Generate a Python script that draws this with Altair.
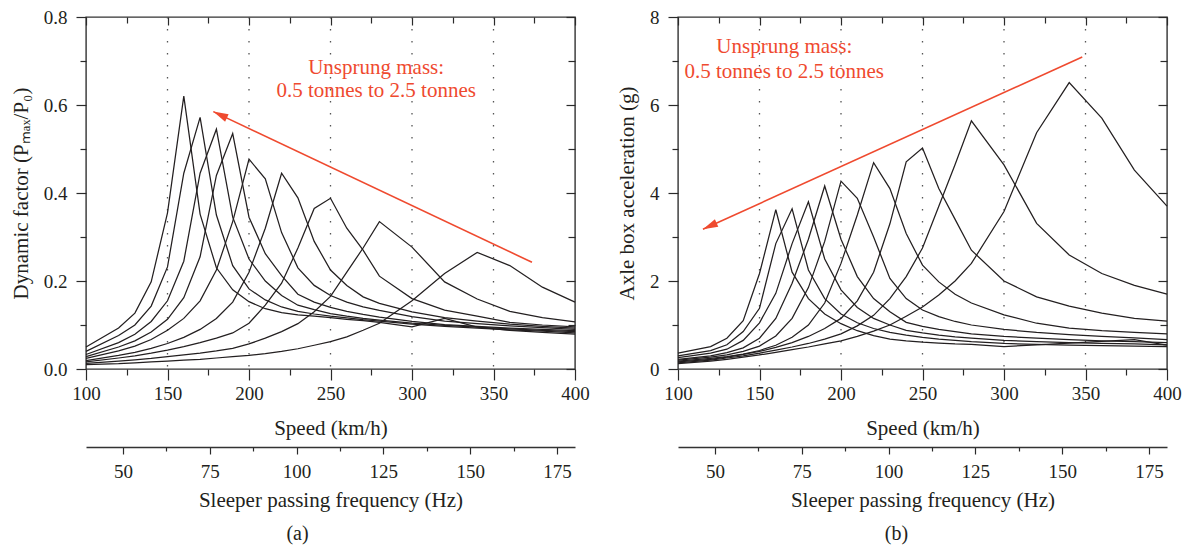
import altair as alt
import pandas as pd

FONT = "Liberation Serif"
INK = "#231f20"
RED = "#ef4a2f"

# Train speed samples (km/h)
speed = [100, 120, 130, 140, 150, 160, 170, 180, 190, 200, 210, 220,
         230, 240, 250, 260, 270, 280, 300, 320, 340, 360, 380, 400]

# Unsprung mass of each curve (tonnes)
masses = ["2.50", "2.25", "2.00", "1.75", "1.50", "1.25", "1.00", "0.75", "0.50"]

# (a) Dynamic factor Pmax/P0, one list per unsprung mass
dyn_250 = [0.050, 0.093, 0.127, 0.198, 0.355, 0.620, 0.352, 0.230, 0.180, 0.153, 0.137, 0.128,
           0.123, 0.120, 0.117, 0.113, 0.110, 0.106, 0.096, 0.115, 0.095, 0.088, 0.083, 0.079]
dyn_225 = [0.040, 0.076, 0.100, 0.143, 0.232, 0.445, 0.572, 0.350, 0.235, 0.182, 0.157, 0.141,
           0.131, 0.125, 0.120, 0.116, 0.112, 0.109, 0.102, 0.097, 0.093, 0.089, 0.086, 0.082]
dyn_200 = [0.033, 0.060, 0.079, 0.108, 0.155, 0.245, 0.445, 0.545, 0.345, 0.250, 0.200, 0.167,
           0.145, 0.135, 0.126, 0.120, 0.115, 0.111, 0.104, 0.099, 0.095, 0.091, 0.088, 0.085]
dyn_175 = [0.028, 0.050, 0.064, 0.084, 0.113, 0.162, 0.255, 0.440, 0.535, 0.345, 0.262, 0.212,
           0.170, 0.152, 0.140, 0.131, 0.124, 0.118, 0.108, 0.101, 0.097, 0.093, 0.090, 0.087]
dyn_150 = [0.024, 0.041, 0.052, 0.067, 0.088, 0.115, 0.155, 0.225, 0.335, 0.477, 0.432, 0.310,
           0.230, 0.190, 0.167, 0.152, 0.141, 0.133, 0.119, 0.109, 0.103, 0.098, 0.094, 0.090]
dyn_125 = [0.019, 0.031, 0.038, 0.047, 0.058, 0.072, 0.090, 0.115, 0.152, 0.220, 0.320, 0.445,
           0.389, 0.290, 0.225, 0.190, 0.164, 0.149, 0.130, 0.117, 0.109, 0.102, 0.097, 0.093]
dyn_100 = [0.016, 0.025, 0.030, 0.036, 0.043, 0.051, 0.060, 0.070, 0.082, 0.104, 0.145, 0.195,
           0.275, 0.365, 0.388, 0.320, 0.270, 0.211, 0.160, 0.134, 0.120, 0.106, 0.100, 0.096]
dyn_075 = [0.013, 0.018, 0.021, 0.024, 0.028, 0.032, 0.036, 0.041, 0.047, 0.057, 0.070, 0.085,
           0.103, 0.130, 0.165, 0.220, 0.275, 0.335, 0.277, 0.198, 0.159, 0.131, 0.117, 0.107]
dyn_050 = [0.010, 0.012, 0.014, 0.016, 0.018, 0.020, 0.022, 0.025, 0.028, 0.031, 0.035, 0.040,
           0.046, 0.054, 0.062, 0.073, 0.088, 0.104, 0.155, 0.217, 0.265, 0.235, 0.186, 0.152]

# (b) Axle box acceleration (g), one list per unsprung mass
acc_250 = [0.36, 0.51, 0.70, 1.10, 2.17, 3.62, 2.20, 1.60, 1.25, 1.03, 0.87, 0.76,
           0.68, 0.64, 0.61, 0.59, 0.57, 0.56, 0.51, 0.55, 0.59, 0.63, 0.67, 0.54]
acc_225 = [0.30, 0.42, 0.55, 0.85, 1.38, 2.85, 3.64, 2.25, 1.60, 1.25, 1.05, 0.92,
           0.83, 0.77, 0.72, 0.68, 0.65, 0.62, 0.58, 0.56, 0.54, 0.53, 0.52, 0.51]
acc_200 = [0.26, 0.36, 0.45, 0.65, 1.05, 1.72, 2.85, 3.80, 2.50, 1.80, 1.40, 1.15,
           1.00, 0.88, 0.82, 0.77, 0.73, 0.70, 0.65, 0.62, 0.60, 0.58, 0.57, 0.55]
acc_175 = [0.22, 0.30, 0.37, 0.48, 0.70, 1.15, 1.95, 2.95, 4.16, 2.95, 2.10, 1.60,
           1.30, 1.06, 0.97, 0.90, 0.85, 0.80, 0.74, 0.70, 0.67, 0.64, 0.62, 0.60]
acc_150 = [0.20, 0.27, 0.32, 0.40, 0.52, 0.75, 1.15, 1.85, 2.90, 4.27, 3.88, 3.00,
           2.06, 1.60, 1.34, 1.19, 1.08, 1.00, 0.90, 0.83, 0.78, 0.74, 0.71, 0.67]
acc_125 = [0.18, 0.24, 0.28, 0.34, 0.42, 0.54, 0.72, 1.00, 1.50, 2.40, 3.50, 4.69,
           4.10, 3.08, 2.36, 1.98, 1.70, 1.50, 1.23, 1.04, 0.93, 0.87, 0.83, 0.80]
acc_100 = [0.16, 0.22, 0.27, 0.33, 0.40, 0.49, 0.60, 0.74, 0.92, 1.15, 1.55, 2.20,
           3.30, 4.71, 5.02, 4.10, 3.40, 2.70, 2.00, 1.64, 1.43, 1.27, 1.15, 1.09]
acc_075 = [0.14, 0.20, 0.25, 0.30, 0.36, 0.43, 0.50, 0.58, 0.68, 0.80, 0.98, 1.22,
           1.60, 2.10, 2.75, 3.70, 4.65, 5.64, 4.64, 3.31, 2.59, 2.17, 1.90, 1.70]
acc_050 = [0.12, 0.18, 0.22, 0.27, 0.32, 0.38, 0.44, 0.50, 0.57, 0.64, 0.74, 0.86,
           1.00, 1.20, 1.41, 1.68, 2.00, 2.40, 3.58, 5.37, 6.51, 5.70, 4.52, 3.70]

# Axis ticks
speed_major = [100, 150, 200, 250, 300, 350, 400]
speed_minor = [125, 175, 225, 275, 325, 375]
freq_major = [50, 75, 100, 125, 150, 175]
freq_minor = [62.5, 87.5, 112.5, 137.5, 162.5]
freq_domain = [39.35, 180.2]
dotted_speeds = [150, 200, 250, 300, 350]

note_lines = ["Unsprung mass:", "0.5 tonnes to 2.5 tonnes"]

W, H = 489, 352


def long_table(series, field):
    rows = []
    for m, vals in zip(masses, series):
        for s, v in zip(speed, vals):
            rows.append({"speed": s, field: v, "mass": m})
    return pd.DataFrame(rows)


def panel(df, field, ydom, ymaj, ymin, yfmt, ytitle, note_x, note_y,
          arrow_from, arrow_to, head_angle, caption, cap_dx):
    xs = alt.Scale(domain=[100, 400], nice=False, zero=False)
    ys = alt.Scale(domain=ydom, nice=False, zero=False)
    fs = alt.Scale(domain=freq_domain, nice=False, zero=False)
    frame = pd.DataFrame({"speed": [100, 400], field: ydom})

    def no_axis_x(name="speed"):
        return alt.X(f"{name}:Q", scale=xs, axis=None)

    def no_axis_y():
        return alt.Y(f"{field}:Q", scale=ys, axis=None)

    dotted = alt.Chart(pd.DataFrame({"speed": dotted_speeds})).mark_rule(
        color="#555", strokeWidth=1.3, strokeDash=[1.5, 10.5]
    ).encode(x=no_axis_x())

    lines = alt.Chart(df).mark_line(
        color=INK, strokeWidth=1.25, strokeJoin="miter"
    ).encode(
        x=alt.X("speed:Q", scale=xs, axis=alt.Axis(
            orient="bottom", values=speed_major, tickSize=11, labelPadding=4,
            labelFlush=False, title="Speed (km/h)", titlePadding=14, domain=False)),
        y=alt.Y(f"{field}:Q", scale=ys, axis=alt.Axis(
            orient="left", values=ymaj, format=yfmt, tickSize=10, labelPadding=9,
            labelFlush=False, title=ytitle, titlePadding=12, domain=False)),
        detail="mass:N",
    )

    minor = alt.Chart(frame).mark_point(opacity=0).encode(
        x=alt.X("speed:Q", scale=xs, axis=alt.Axis(
            orient="bottom", values=speed_minor, tickSize=6, labels=False,
            domain=False, title=None)),
        y=alt.Y(f"{field}:Q", scale=ys, axis=alt.Axis(
            orient="left", values=ymin, tickSize=6, labels=False,
            domain=False, title=None)),
    )

    mirror_major = alt.Chart(frame).mark_point(opacity=0).encode(
        x=alt.X("speed:Q", scale=xs, axis=alt.Axis(
            orient="top", offset=-8, values=speed_major, tickSize=8, labels=False,
            domain=False, title=None)),
        y=alt.Y(f"{field}:Q", scale=ys, axis=alt.Axis(
            orient="right", offset=-9, values=ymaj, tickSize=9, labels=False,
            domain=False, title=None)),
    )

    mirror_minor = alt.Chart(frame).mark_point(opacity=0).encode(
        x=alt.X("speed:Q", scale=xs, axis=alt.Axis(
            orient="top", offset=-6, values=speed_minor, tickSize=6, labels=False,
            domain=False, title=None)),
        y=alt.Y(f"{field}:Q", scale=ys, axis=alt.Axis(
            orient="right", offset=-7, values=ymin, tickSize=7, labels=False,
            domain=False, title=None)),
    )

    freq = alt.Chart(pd.DataFrame({"freq": freq_major})).mark_point(opacity=0).encode(
        x=alt.X("freq:Q", scale=fs, axis=alt.Axis(
            orient="bottom", offset=78, values=freq_major, tickSize=7, labelPadding=8,
            labelFlush=False, title="Sleeper passing frequency (Hz)", titlePadding=8,
            domain=True, domainColor="#333", domainWidth=1.4)),
    )

    freq_min = alt.Chart(pd.DataFrame({"freq": freq_minor})).mark_point(opacity=0).encode(
        x=alt.X("freq:Q", scale=fs, axis=alt.Axis(
            orient="bottom", offset=78, values=freq_minor, tickSize=4, labels=False,
            domain=False, title=None)),
    )

    notes = alt.Chart(pd.DataFrame({
        "speed": [note_x, note_x], field: note_y, "txt": note_lines
    })).mark_text(
        font=FONT, fontSize=21, color=RED, align="center", baseline="middle"
    ).encode(x=no_axis_x(), y=no_axis_y(), text="txt:N")

    arrow_df = pd.DataFrame({
        "speed": [arrow_from[0]], field: [arrow_from[1]],
        "speed2": [arrow_to[0]], "v2": [arrow_to[1]],
    })
    shaft = alt.Chart(arrow_df).mark_rule(color=RED, strokeWidth=1.6).encode(
        x=no_axis_x(), y=no_axis_y(), x2="speed2:Q", y2="v2:Q"
    )
    head = alt.Chart(pd.DataFrame({
        "speed": [arrow_to[0]], field: [arrow_to[1]]
    })).mark_point(
        shape="M0,0L0.55,2L-0.55,2Z", size=225, filled=True, color=RED,
        opacity=1, angle=head_angle, strokeWidth=0
    ).encode(x=no_axis_x(), y=no_axis_y())

    return alt.layer(
        dotted, lines, minor, mirror_major, mirror_minor, freq, freq_min,
        shaft, head, notes
    ).resolve_scale(x="independent", y="independent").properties(
        width=W, height=H,
        title=alt.TitleParams(caption, orient="bottom", anchor="middle",
                              offset=14, dx=cap_dx, fontSize=20, font=FONT,
                              fontWeight="normal", color=INK),
    )


dyn_df = long_table([dyn_250, dyn_225, dyn_200, dyn_175, dyn_150,
                     dyn_125, dyn_100, dyn_075, dyn_050], "dyn")
acc_df = long_table([acc_250, acc_225, acc_200, acc_175, acc_150,
                     acc_125, acc_100, acc_075, acc_050], "acc")

left = panel(
    dyn_df, "dyn", [0, 0.8], [0, 0.2, 0.4, 0.6, 0.8], [0.1, 0.3, 0.5, 0.7], ".1f",
    "Dynamic factor (Pₘₐₓ/P₀)", 278, [0.684, 0.632],
    (373.6, 0.2425), (178.1, 0.585), 295.3, "(a)", -33,
)
right = panel(
    acc_df, "acc", [0, 8], [0, 2, 4, 6, 8], [1, 3, 5, 7], "d",
    "Axle box acceleration (g)", 165.2, [7.32, 6.75],
    (348.0, 7.09), (115.3, 3.175), 245.6, "(b)", -26,
)

chart = alt.hconcat(left, right, spacing=25).resolve_scale(
    x="independent", y="independent"
).properties(
    padding={"left": 9, "top": 7, "right": 3, "bottom": 5},
    background="white",
).configure_axis(
    labelFont=FONT, labelFontSize=19, labelColor=INK,
    titleFont=FONT, titleFontSize=21, titleFontWeight="normal", titleColor=INK,
    tickColor="#2a2a2a", tickWidth=1.2, grid=False,
).configure_view(
    stroke="#333333", strokeWidth=1.4,
)

chart.save("out.html", embed_options={"renderer": "svg", "actions": False})
